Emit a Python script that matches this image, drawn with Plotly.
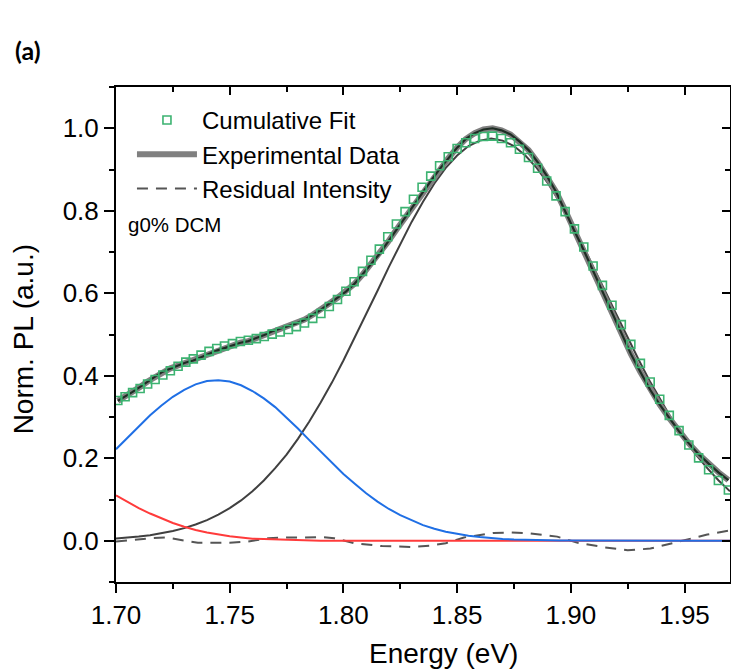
import plotly.graph_objects as go

# Photon energy of each measured point (eV)
energy = [
    1.7008, 1.7040, 1.7073, 1.7106, 1.7139, 1.7172, 1.7206, 1.7239, 1.7273, 1.7307,
    1.7340, 1.7374, 1.7409, 1.7443, 1.7477, 1.7512, 1.7547, 1.7582, 1.7617, 1.7652,
    1.7687, 1.7722, 1.7758, 1.7793, 1.7829, 1.7865, 1.7901, 1.7938, 1.7974, 1.8011,
    1.8047, 1.8084, 1.8121, 1.8158, 1.8195, 1.8233, 1.8271, 1.8308, 1.8346, 1.8384,
    1.8423, 1.8461, 1.8500, 1.8538, 1.8577, 1.8616, 1.8656, 1.8695, 1.8735, 1.8774,
    1.8814, 1.8854, 1.8894, 1.8935, 1.8975, 1.9016, 1.9057, 1.9098, 1.9139, 1.9181,
    1.9222, 1.9264, 1.9306, 1.9349, 1.9391, 1.9433, 1.9476, 1.9519, 1.9562, 1.9606,
    1.9649, 1.9693,
]

# Normalised PL spectrum
experimental = [
    0.339, 0.349, 0.361, 0.373, 0.386, 0.398, 0.410, 0.418, 0.425, 0.432,
    0.437, 0.445, 0.454, 0.461, 0.467, 0.473, 0.480, 0.484, 0.491, 0.499,
    0.508, 0.514, 0.520, 0.527, 0.536, 0.548, 0.560, 0.575, 0.589, 0.604,
    0.622, 0.645, 0.670, 0.695, 0.724, 0.754, 0.783, 0.813, 0.844, 0.872,
    0.901, 0.927, 0.953, 0.974, 0.988, 0.997, 1.000, 0.995, 0.985, 0.968,
    0.947, 0.918, 0.885, 0.846, 0.801, 0.751, 0.704, 0.654, 0.604, 0.553,
    0.503, 0.453, 0.409, 0.366, 0.330, 0.297, 0.265, 0.236, 0.210, 0.187,
    0.166, 0.147,
]

# Sum of the three fitted peaks
cumulative_fit = [
    0.340, 0.349, 0.359, 0.369, 0.380, 0.391, 0.402, 0.412, 0.423, 0.433,
    0.441, 0.450, 0.459, 0.466, 0.472, 0.478, 0.483, 0.486, 0.490, 0.495,
    0.501, 0.506, 0.512, 0.519, 0.528, 0.539, 0.551, 0.568, 0.585, 0.605,
    0.628, 0.653, 0.680, 0.707, 0.737, 0.768, 0.798, 0.828, 0.857, 0.884,
    0.909, 0.931, 0.951, 0.965, 0.975, 0.980, 0.981, 0.975, 0.965, 0.949,
    0.929, 0.903, 0.872, 0.836, 0.798, 0.756, 0.712, 0.666, 0.619, 0.571,
    0.524, 0.476, 0.430, 0.385, 0.343, 0.304, 0.267, 0.232, 0.201, 0.172,
    0.146, 0.123,
]

# Energy grid of the individual fitted peaks (eV)
peak_energy = [
    1.700, 1.705, 1.710, 1.715, 1.720, 1.725, 1.730, 1.735, 1.740, 1.745,
    1.750, 1.755, 1.760, 1.765, 1.770, 1.775, 1.780, 1.785, 1.790, 1.795,
    1.800, 1.805, 1.810, 1.815, 1.820, 1.825, 1.830, 1.835, 1.840, 1.845,
    1.850, 1.855, 1.860, 1.865, 1.870, 1.875, 1.880, 1.885, 1.890, 1.895,
    1.900, 1.905, 1.910, 1.915, 1.920, 1.925, 1.930, 1.935, 1.940, 1.945,
    1.950, 1.955, 1.960, 1.965, 1.970,
]

main_peak = [
    0.0055, 0.0075, 0.0101, 0.0136, 0.018, 0.0235, 0.0306, 0.0393, 0.0501, 0.0632,
    0.079, 0.0978, 0.120, 0.146, 0.176, 0.209, 0.247, 0.289, 0.335, 0.384,
    0.437, 0.492, 0.549, 0.606, 0.664, 0.719, 0.773, 0.822, 0.866, 0.904,
    0.934, 0.957, 0.970, 0.975, 0.970, 0.957, 0.934, 0.904, 0.866, 0.822,
    0.773, 0.719, 0.664, 0.606, 0.549, 0.492, 0.437, 0.384, 0.335, 0.289,
    0.247, 0.209, 0.176, 0.146, 0.120,
]

middle_peak = [
    0.222, 0.250, 0.278, 0.304, 0.328, 0.349, 0.366, 0.379, 0.387, 0.389,
    0.386, 0.377, 0.363, 0.345, 0.324, 0.299, 0.272, 0.244, 0.216, 0.189,
    0.162, 0.138, 0.115, 0.095, 0.077, 0.062, 0.049, 0.038, 0.029, 0.022,
    0.017, 0.012, 0.009, 0.006, 0.0045, 0.0031, 0.0021, 0.0014, 0.0009, 0.0006,
    0.0004, 0.0002, 0.0001, 0.0, 0.0, 0.0, 0.0, 0.0, 0.0, 0.0,
    0.0, 0.0, 0.0, 0.0, 0.0,
]

low_peak = [
    0.110, 0.094, 0.079, 0.066, 0.054, 0.043, 0.034, 0.026, 0.020, 0.015,
    0.011, 0.008, 0.005, 0.004, 0.003, 0.002, 0.001, 0.001, 0.0, 0.0,
    0.0, 0.0, 0.0, 0.0, 0.0, 0.0, 0.0, 0.0, 0.0, 0.0,
    0.0, 0.0, 0.0, 0.0, 0.0, 0.0, 0.0, 0.0, 0.0, 0.0,
    0.0, 0.0, 0.0, 0.0, 0.0, 0.0, 0.0, 0.0, 0.0, 0.0,
    0.0, 0.0, 0.0, 0.0, 0.0,
]

# Residual (data minus cumulative fit)
residual_energy = [
    1.700, 1.707, 1.715, 1.722, 1.730, 1.736, 1.750, 1.758, 1.767, 1.775,
    1.783, 1.790, 1.796, 1.805, 1.817, 1.830, 1.838, 1.845, 1.853, 1.866,
    1.874, 1.882, 1.894, 1.903, 1.915, 1.925, 1.935, 1.949, 1.960, 1.970,
]
residual = [
    -0.002, 0.002, 0.006, 0.008, 0.000, -0.005, -0.005, -0.002, 0.006, 0.008,
    0.008, 0.009, 0.006, -0.006, -0.013, -0.015, -0.012, -0.006, 0.008, 0.019,
    0.020, 0.018, 0.010, -0.005, -0.016, -0.023, -0.019, 0.000, 0.015, 0.025,
]

FONT = "Liberation Sans, Arial, sans-serif"

fig = go.Figure()

fig.add_trace(go.Scatter(
    x=residual_energy, y=residual, mode="lines", name="Residual Intensity",
    line=dict(color="#555555", width=2, dash="11px,8px"), legendrank=3,
))
fig.add_trace(go.Scatter(
    x=peak_energy, y=main_peak, mode="lines", showlegend=False,
    line=dict(color="#404040", width=2),
))
fig.add_trace(go.Scatter(
    x=peak_energy, y=low_peak, mode="lines", showlegend=False,
    line=dict(color="#ff3b3b", width=2),
))
fig.add_trace(go.Scatter(
    x=peak_energy, y=middle_peak, mode="lines", showlegend=False,
    line=dict(color="#1f6fe5", width=2),
))
fig.add_trace(go.Scatter(
    x=energy, y=experimental, mode="lines", name="Experimental Data",
    line=dict(color="#808080", width=6), legendrank=2,
))
fig.add_trace(go.Scatter(
    x=energy, y=experimental, mode="lines", showlegend=False,
    line=dict(color="#1e2d24", width=2.2),
))
fig.add_trace(go.Scatter(
    x=energy, y=cumulative_fit, mode="markers", name="Cumulative Fit",
    marker=dict(symbol="square-open", size=8, color="#3cb371",
                line=dict(width=1.6, color="#3cb371")),
    legendrank=1,
))
# carrier for the top/right frame axes
fig.add_trace(go.Scatter(
    x=[None], y=[None], xaxis="x2", yaxis="y2", showlegend=False,
    hoverinfo="skip",
))

xr = [1.70, 1.97]
yr = [-0.1, 1.1]

fig.update_layout(
    width=731, height=670,
    margin=dict(l=116, r=1, t=87, b=88),
    paper_bgcolor="white", plot_bgcolor="white",
    font=dict(family=FONT, color="black", size=20),
    showlegend=True,
    legend=dict(
        x=0.026, y=0.978, xanchor="left", yanchor="top",
        bgcolor="rgba(0,0,0,0)", font=dict(size=24, family=FONT),
        itemwidth=60, tracegroupgap=0,
    ),
    xaxis=dict(
        range=xr, tickmode="linear", tick0=1.70, dtick=0.05, tickformat=".2f",
        ticks="outside", ticklen=9, tickwidth=2, tickcolor="black",
        minor=dict(dtick=0.025, tick0=1.70, ticks="outside", ticklen=5,
                   tickwidth=2, tickcolor="black"),
        showline=True, linecolor="black", linewidth=2, showgrid=False,
        zeroline=False, tickfont=dict(size=26),
    ),
    yaxis=dict(
        range=yr, tickmode="linear", tick0=0, dtick=0.2, tickformat=".1f",
        ticks="outside", ticklen=10, tickwidth=2, tickcolor="black",
        minor=dict(dtick=0.1, tick0=0, ticks="outside", ticklen=5,
                   tickwidth=2, tickcolor="black"),
        showline=True, linecolor="black", linewidth=2, showgrid=False,
        zeroline=False, tickfont=dict(size=26),
    ),
    xaxis2=dict(
        range=xr, overlaying="x", side="top", anchor="y2",
        tickmode="linear", tick0=1.70, dtick=0.05, showticklabels=False,
        ticks="inside", ticklen=8, tickwidth=2, tickcolor="black",
        minor=dict(dtick=0.025, tick0=1.70, ticks="inside", ticklen=5,
                   tickwidth=2, tickcolor="black"),
        showline=True, linecolor="black", linewidth=2, showgrid=False,
        zeroline=False,
    ),
    yaxis2=dict(
        range=yr, overlaying="y", side="right", anchor="x2",
        tickmode="linear", tick0=0, dtick=0.2, showticklabels=False,
        ticks="inside", ticklen=8, tickwidth=2, tickcolor="black",
        minor=dict(dtick=0.1, tick0=0, ticks="inside", ticklen=5,
                   tickwidth=2, tickcolor="black"),
        showline=True, linecolor="black", linewidth=2, showgrid=False,
        zeroline=False,
    ),
    annotations=[
        # axis titles
        dict(text="Energy (eV)", x=0.533, y=-0.145, xref="paper", yref="paper",
             xanchor="center", yanchor="middle", showarrow=False,
             font=dict(size=28, family=FONT)),
        dict(text="Norm. PL (a.u.)", x=-0.15, y=0.49, xref="paper", yref="paper",
             xanchor="center", yanchor="middle", showarrow=False, textangle=-90,
             font=dict(size=28, family=FONT)),
        dict(text="g0% DCM", x=0.017, y=0.722, xref="paper", yref="paper",
             xanchor="left", yanchor="middle", showarrow=False,
             font=dict(size=20.5, family=FONT)),
        dict(text="<b>(a)</b>", x=-0.167, y=1.075, xref="paper", yref="paper",
             xanchor="left", yanchor="middle", showarrow=False,
             font=dict(size=25, family="Lato, Open Sans, sans-serif")),
    ],
)

fig.write_html("out.html")
